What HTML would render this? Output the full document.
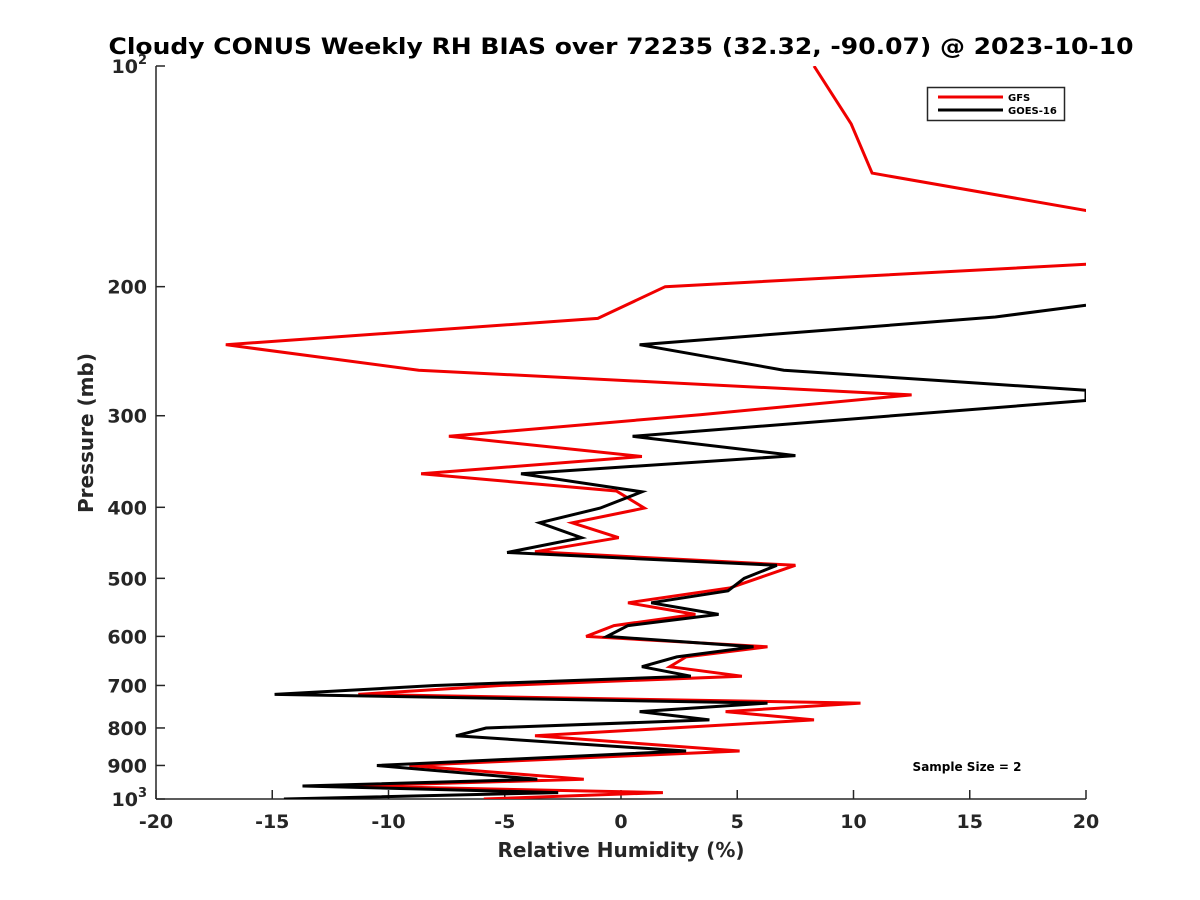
<!DOCTYPE html>
<html><head><meta charset="utf-8"><style>
body{margin:0;background:#fff}
svg{display:block;font-family:"DejaVu Sans","Liberation Sans",sans-serif}
</style></head><body>
<svg id="chart" width="1200" height="900" viewBox="0 0 1200 900">
<defs><clipPath id="plotclip"><rect x="156" y="66" width="930" height="733"/></clipPath></defs>
<rect width="1200" height="900" fill="#fff"/>
<text x="621" y="54" text-anchor="middle" font-size="22" font-weight="bold" fill="#000" textLength="1025" lengthAdjust="spacingAndGlyphs">Cloudy CONUS Weekly RH BIAS over 72235 (32.32, -90.07) @ 2023-10-10</text>
<g id="axes"></g>
<g id="series" clip-path="url(#plotclip)"></g>
<text x="621" y="857" text-anchor="middle" font-size="20" font-weight="bold" fill="#262626">Relative Humidity (%)</text>
<text transform="translate(93,433) rotate(-90)" text-anchor="middle" font-size="20" font-weight="bold" fill="#262626">Pressure (mb)</text>
<g>
<rect x="927.5" y="87.5" width="137" height="33" fill="#fff" stroke="#262626" stroke-width="1.5"/>
<line x1="938" y1="97" x2="1003" y2="97" stroke="#f00000" stroke-width="3"/>
<text x="1008" y="101" font-size="10" font-weight="bold" fill="#000">GFS</text>
<line x1="938" y1="110" x2="1003" y2="110" stroke="#000" stroke-width="3"/>
<text x="1008" y="114" font-size="10" font-weight="bold" fill="#000">GOES-16</text>
</g>
<text x="967" y="771" text-anchor="middle" font-size="12" font-weight="bold" fill="#000">Sample Size = 2</text>
</svg>
<script>
const xTicks=[-20,-15,-10,-5,0,5,10,15,20];
const yTicks=[100,200,300,400,500,600,700,800,900,1000];
const gfsP=[100,120,140,170,185,200,221,240,260,281,299,320,341,360,380,401,420,440,460,480,515,540,560,580,600,620,640,660,680,700,720,740,760,780,820,860,900,940,960,980,1000];
const gfsV=[8.3,9.9,10.8,26,22,1.9,-1.0,-17.0,-8.7,12.5,3.4,-7.4,0.9,-8.6,-0.2,1.0,-2.1,-0.1,-3.7,7.5,4.7,0.3,3.2,-0.3,-1.5,6.3,2.8,2.1,5.2,-5.2,-11.3,10.3,4.5,8.3,-3.7,5.1,-9.1,-1.6,-11.7,1.8,-5.9];
const goesP=[212,220,240,260,277,286,320,340,360,381,401,420,440,461,480,500,520,540,560,580,600,620,640,660,680,700,720,740,760,780,800,820,860,900,940,960,980,1000];
const goesV=[20,16.1,0.8,7.0,20,20,0.5,7.5,-4.3,0.9,-0.9,-3.5,-1.7,-4.9,6.7,5.3,4.6,1.3,4.2,0.3,-0.6,5.7,2.4,0.9,3.0,-8.0,-14.9,6.3,0.8,3.8,-5.8,-7.1,2.8,-10.5,-3.6,-13.7,-2.7,-14.5];
const NS='http://www.w3.org/2000/svg';
const X0=156,X1=1086,Y0=66,Y1=799;
function xs(v){return X0+(v+20)/40*(X1-X0);}
function ys(p){return Y0+(Math.log10(p)-2)*(Y1-Y0);}
function mk(tag,attrs,parent){const e=document.createElementNS(NS,tag);for(const k in attrs)e.setAttribute(k,attrs[k]);parent.appendChild(e);return e;}
const axes=document.getElementById('axes');
let a=mk('line',{x1:X0,y1:Y0,x2:X0,y2:Y1,stroke:'#262626','stroke-width':1.5},axes);


a=mk('line',{x1:X0,y1:Y1,x2:X1,y2:Y1,stroke:'#262626','stroke-width':1.5},axes);


xTicks.forEach(v=>{const x=xs(v);
 const t=mk('line',{x1:x,y1:Y1,x2:x,y2:Y1-9,stroke:'#262626','stroke-width':1.5},axes);
 
 
 const l=mk('text',{x:x,y:Y1+29,'text-anchor':'middle','font-size':19,'font-weight':'bold',fill:'#262626'},axes);
 l.textContent=String(v);
 
 
});
yTicks.forEach(p=>{const y=ys(p);
 const t=mk('line',{x1:X0,y1:y,x2:X0+9,y2:y,stroke:'#262626','stroke-width':1.5},axes);
 
 
 const l=mk('text',{x:X0-9,y:y+7,'text-anchor':'end','font-size':19,'font-weight':'bold',fill:'#262626'},axes);
 if(p===100||p===1000){l.textContent='10';const s=mk('tspan',{dy:-9,'font-size':13},l);s.textContent=p===100?'2':'3';}
 else l.textContent=String(p);
 
 
});
const sg=document.getElementById('series');
function drawLine(P,V,color,name){
 const d=P.map((p,i)=>(i?'L':'M')+xs(V[i]).toFixed(1)+','+ys(p).toFixed(1)).join(' ');
 const e=mk('path',{d:d,fill:'none',stroke:color,'stroke-width':3,'stroke-linejoin':'miter'},sg);
 
 
}
drawLine(gfsP,gfsV,'#f00000','gfs-line');
drawLine(goesP,goesV,'#000000','goes16-line');
</script>
</body></html>
